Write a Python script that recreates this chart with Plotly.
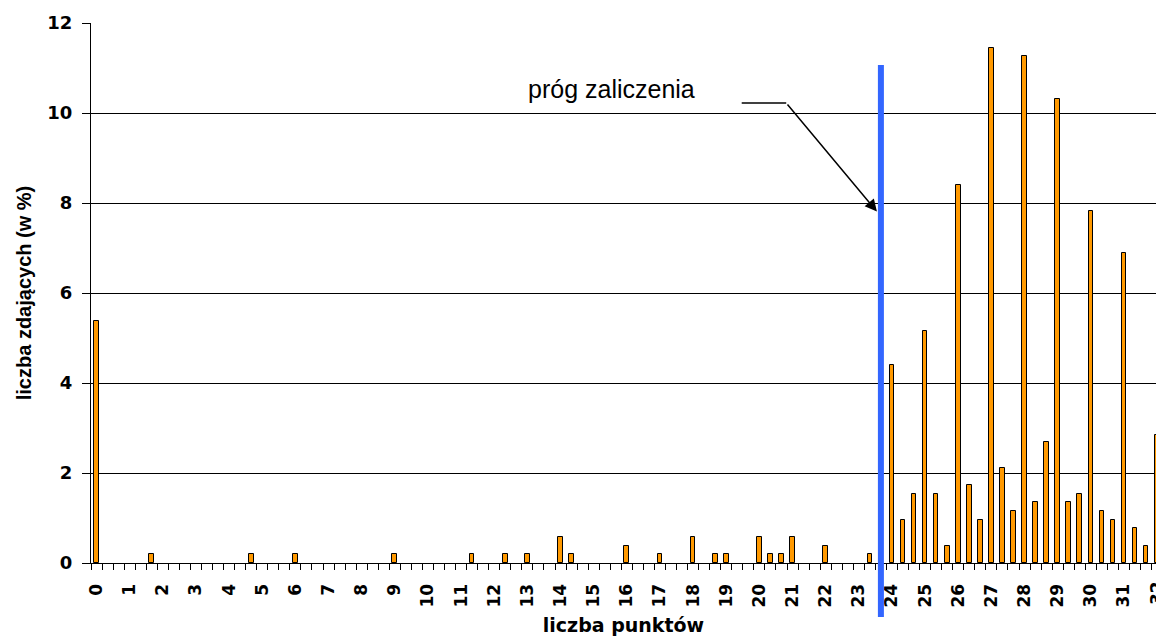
import plotly.graph_objects as go

# ── DATA ────────────────────────────────────────────────────
# score expressed in thirds of a point (0 .. 96 -> 0 .. 32 pts)
thirds = [0, 5, 14, 18, 27, 34, 37, 39, 42, 43, 48, 51, 54, 56, 57, 60, 61, 62,
          63, 66, 70, 72, 73, 74, 75, 76, 77, 78, 79, 80, 81, 82, 83, 84, 85, 86,
          87, 88, 89, 90, 91, 92, 93, 94, 95, 96]
percent = [5.37, 0.19, 0.19, 0.19, 0.19, 0.19, 0.19, 0.19, 0.58, 0.19, 0.38, 0.19,
           0.58, 0.19, 0.19, 0.58, 0.19, 0.19, 0.58, 0.38, 0.19, 4.40, 0.96, 1.54,
           5.15, 1.54, 0.38, 8.40, 1.73, 0.96, 11.45, 2.12, 1.15, 11.27, 1.35, 2.69,
           10.31, 1.35, 1.54, 7.83, 1.15, 0.96, 6.88, 0.77, 0.38, 2.85]

points = list(range(0, 33))                 # tick labels 0..32
tick_pos = [p * 3 for p in points]
threshold = 71                              # pass mark (in thirds)

X_RANGE = [-0.5, 95.9]
TICK_FONT = dict(family="DejaVu Sans", size=17, color="black", weight="bold")

fig = go.Figure()
fig.add_trace(go.Bar(
    x=thirds, y=percent,
    width=0.42,
    marker=dict(color="#FF9900", line=dict(color="black", width=1)),
    showlegend=False,
))

# pass-mark line
fig.add_shape(type="line", xref="x", yref="paper",
              x0=threshold, x1=threshold, y0=-0.1, y1=0.922,
              line=dict(color="#3366FF", width=6), layer="above")

# label + leader arrow
fig.add_annotation(x=46.65, y=10.53, xref="x", yref="y", text="próg zaliczenia",
                   showarrow=False, xanchor="center", yanchor="middle",
                   font=dict(family="Liberation Sans, Arial", size=25, color="black"))
fig.add_shape(type="line", xref="x", yref="y", x0=58.4, x1=62.43, y0=10.22, y1=10.22,
              line=dict(color="black", width=1.5))
fig.add_annotation(x=70.64, y=7.81, xref="x", yref="y", axref="x", ayref="y",
                   ax=62.43, ay=10.22, text="", showarrow=True,
                   arrowhead=2, arrowsize=1.6, arrowwidth=1.5, arrowcolor="black")

# tick labels that fall past the cut-off right edge (plotly drops them)
span = X_RANGE[1] - X_RANGE[0]
for p, t in zip(points, tick_pos):
    if t > X_RANGE[1]:
        fig.add_annotation(x=(t - X_RANGE[0]) / span, y=0, xref="paper", yref="paper",
                           yshift=-16, text=str(p), showarrow=False, textangle=-90,
                           xanchor="center", yanchor="top", font=TICK_FONT)

fig.update_layout(
    width=1156, height=637,
    margin=dict(l=91, r=0, t=23, b=74),
    plot_bgcolor="white", paper_bgcolor="white",
    bargap=0,
    font=dict(family="DejaVu Sans", color="black"),
    xaxis=dict(
        range=X_RANGE, automargin=False,
        tickmode="array", tickvals=tick_pos, ticktext=[str(p) for p in points],
        tickangle=-90,
        tickfont=TICK_FONT,
        ticks="", showgrid=False, zeroline=False,
        showline=True, linecolor="black", linewidth=1,
        ticklabelstandoff=13,
        minor=dict(tickmode="linear", tick0=-0.5, dtick=1, ticks="outside",
                   ticklen=6, tickcolor="black", tickwidth=1, showgrid=False),
        title=dict(text="liczba punktów", standoff=12,
                   font=dict(family="DejaVu Sans", size=19, weight="bold")),
    ),
    yaxis=dict(
        range=[0, 12], dtick=2, automargin=False,
        tickfont=dict(family="DejaVu Sans", size=18, weight="bold"),
        ticks="outside", ticklen=8, tickcolor="black",
        ticklabelstandoff=6,
        showgrid=True, gridcolor="black", gridwidth=1,
        zeroline=False, showline=True, linecolor="black", linewidth=1,
        title=dict(text="liczba zdających (w %)", standoff=10,
                   font=dict(family="Liberation Sans, Arial", size=20, weight="bold")),
    ),
)

# page body margin would otherwise shift/clip the figure
fig.write_html("out.html", config={"displayModeBar": False},
               post_script="document.body.style.margin='0';"
                           "document.body.style.overflow='hidden';")
